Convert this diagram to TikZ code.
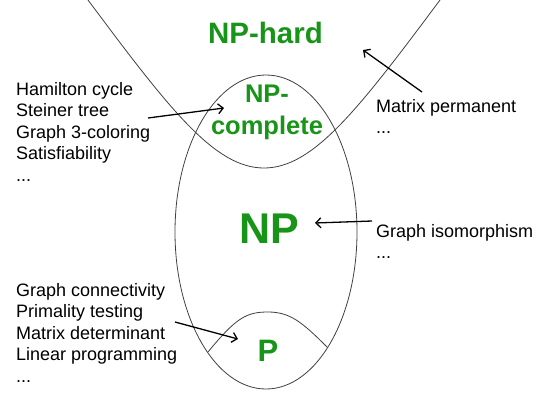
\documentclass[tikz,border=0pt]{standalone}
\usepackage{fontspec}
\setmainfont{Liberation Sans}
\usetikzlibrary{arrows.meta}
\definecolor{classgreen}{RGB}{24,148,24}
\begin{document}
\begin{tikzpicture}[x=1pt,y=-1pt,
  class/.style={text=classgreen,font=\bfseries,inner sep=0pt},
  items/.style={anchor=base west,align=left,inner sep=0pt,font=\fontsize{18}{21.5}\selectfont},
  curve/.style={draw=black!75,line width=0.8pt},
  arr/.style={line width=1.3pt,-{Straight Barb[length=5pt,width=10pt]}}]
  \useasboundingbox (0,0) rectangle (549,408);

  \draw[curve] (266,232) ellipse [x radius=91, y radius=157];
  \draw[curve] (88,0) .. controls (170,110) and (215,168) .. (264,168)
                      .. controls (313,168) and (358,110) .. (440,0);
  \draw[curve] (208,352) .. controls (236,318) and (246,312) .. (268,312)
                         .. controls (290,312) and (302,322) .. (327,347);

  \node[class,anchor=base,font=\bfseries\fontsize{29.5}{30}\selectfont] (nphard) at (265.5,43) {NP-hard};
  \node[class,anchor=base,align=center,font=\bfseries\fontsize{25.5}{32}\selectfont] (npc) at (267,134) {NP-\\complete};
  \node[class,anchor=base,font=\bfseries\fontsize{43}{43}\selectfont] (np) at (269,243) {NP};
  \node[class,anchor=base,font=\bfseries\fontsize{31}{31}\selectfont] (p) at (268,361) {P};

  \node[items] (npclist) at (16,181) {Hamilton cycle\\Steiner tree\\Graph 3-coloring\\Satisfiability\\...};
  \node[items] (plist) at (16,382) {Graph connectivity\\Primality testing\\Matrix determinant\\Linear programming\\...};
  \node[items] (hardlist) at (376,133.5) {Matrix permanent\\...};
  \node[items] (nplist) at (376,258.5) {Graph isomorphism\\...};

  \coordinate (npc tail) at (148,118);
  \coordinate (npc tip) at (224,108);
  \coordinate (hard tail) at (422,92);
  \coordinate (hard tip) at (363,50);
  \coordinate (np tail) at (372,221);
  \coordinate (np tip) at (315,223);
  \coordinate (p tail) at (175,322);
  \coordinate (p tip) at (238,339);

  \draw[arr] (npc tail) -- (npc tip);
  \draw[arr] (hard tail) -- (hard tip);
  \draw[arr] (np tail) -- (np tip);
  \draw[arr] (p tail) -- (p tip);
\end{tikzpicture}
\end{document}
